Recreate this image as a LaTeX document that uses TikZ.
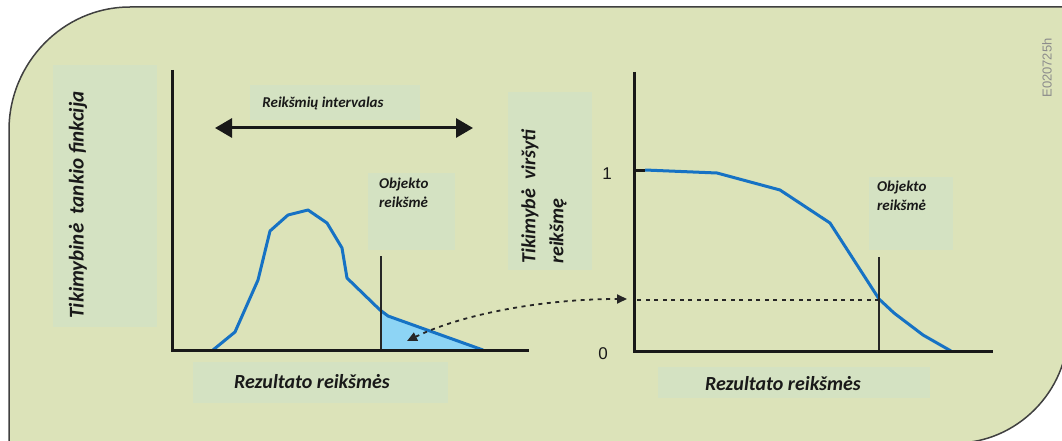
\documentclass[tikz,border=0pt]{standalone}
\usepackage{fontspec}
\setmainfont{Carlito}
\newfontfamily\numfont{Liberation Sans}
\usetikzlibrary{arrows.meta}
\definecolor{panel}{RGB}{220,227,185}
\definecolor{labelbox}{RGB}{212,226,194}
\definecolor{curveblue}{RGB}{22,114,196}
\definecolor{tailblue}{RGB}{141,212,245}

\begin{document}
\begin{tikzpicture}[x=1pt,y=-1pt,
    axis/.style={line width=3pt,draw=black!90},
    marker/.style={line width=1.3pt,draw=black!85},
    curve/.style={line width=3pt,draw=curveblue,line join=round},
    lbl/.style={font=\fontsize{20}{28}\selectfont\bfseries\itshape,inner sep=0pt},
    small lbl/.style={font=\fontsize{15}{19}\selectfont\bfseries\itshape,inner sep=0pt,align=left},
    tick lbl/.style={font=\fontsize{17}{20}\selectfont\numfont,inner sep=0pt},
    dots/.style={line width=1.8pt,dash pattern=on 4pt off 4.5pt,draw=black!85},
    every node/.style={text=black!90}]
    \useasboundingbox (0,0) rectangle (1062,441);
    \clip (0,0) rectangle (1062,441);

    % panel
    \draw[fill=panel,line width=1.5pt,draw=black!75]
        (9,445) -- (9,130) .. controls (9,63) and (63,7) .. (130,7)
        -- (1068,7) -- (1068,330) .. controls (1068,392) and (1016,443) .. (956,443)
        -- (9,445);

    % label boxes
    \fill[labelbox] (53,65) rectangle (157,327);
    \fill[labelbox] (250,85) rectangle (420,120);
    \fill[labelbox] (368,173) rectangle (455,250);
    \fill[labelbox] (508,92) rectangle (592,270);
    \fill[labelbox] (869,177) rectangle (953,250);
    \fill[labelbox] (193,362) rectangle (448,403);
    \fill[labelbox] (658,367) rectangle (930,398);

    % left: density
    \fill[tailblue] (381,311) -- (388,316) -- (483,350) -- (381,350) -- cycle;
    \draw[curve] (213,350) -- (235,332) -- (258,280) -- (270,231) -- (288,215)
        -- (308,210) -- (327,223) -- (342,248) -- (347,278) -- (380,310)
        -- (388,316) -- (483,350);
    \draw[marker] (381,256) -- (381,350);
    \draw[axis] (172,70) -- (172,350) -- (529,350);

    \coordinate (rangeL) at (215,128);
    \coordinate (rangeR) at (473,128);
    \draw[line width=3pt,draw=black!90,fill=black!90,{Triangle[length=17pt,width=19pt]}-{Triangle[length=17pt,width=19pt]}]
        (rangeL) -- (rangeR);

    \node[lbl,font=\fontsize{21}{28}\selectfont\bfseries\itshape,rotate=90] (ylabL) at (78,205)
        {Tikimybinė\ \ tankio finkcija};
    \node[small lbl] (range) at (323,103) {Reikšmių intervalas};
    \node[small lbl,anchor=north west] (objL) at (379,178) {Objekto\\reikšmė};
    \node[lbl] (xlabL) at (312,382) {Rezultato reikšmės};

    % right: exceedance
    \draw[curve] (645,170) -- (717,173) -- (780,190) -- (830,223) -- (879,299)
        -- (894,313) -- (923,335) -- (951,351);
    \draw[line width=3pt,draw=black!90] (634,170) -- (645,170);
    \draw[marker] (879,257) -- (879,351);
    \draw[axis] (634,72) -- (634,351) -- (993,351);

    \node[lbl,rotate=90,anchor=west,align=left] (ylabR) at (544,264)
        {Tikimybė\ \ viršyti\\reikšmę};
    \node[tick lbl] (one) at (607,174) {1};
    \node[tick lbl] (zero) at (603,354) {0};
    \node[small lbl,anchor=north west] (objR) at (877,181) {Objekto\\reikšmė};
    \node[lbl] (xlabR) at (783,384) {Rezultato reikšmės};

    \coordinate (hit) at (879,300);
    \coordinate (axhit) at (637,300);
    \coordinate (tipR) at (627,299);
    \coordinate (tipL) at (407,341);
    \draw[dots] (hit) -- (axhit);
    \draw[dots,{Triangle[length=10pt,width=9pt]}-{Triangle[length=10pt,width=9pt]}]
        (tipL) .. controls (460,315) and (540,299) .. (tipR);

    \node[font=\fontsize{13}{14}\selectfont\numfont,text=black!45,rotate=90,inner sep=0pt]
        (code) at (1047,68) {E020725h};
\end{tikzpicture}
\end{document}
